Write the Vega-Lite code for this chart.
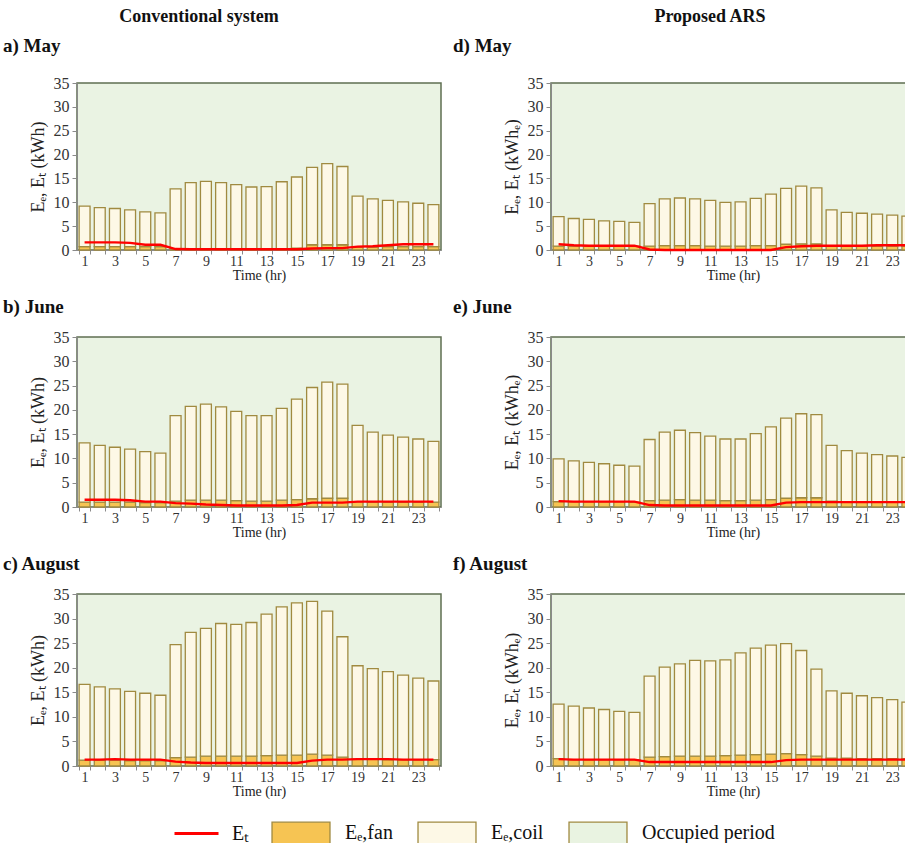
{
"$schema": "https://vega.github.io/schema/vega-lite/v6.json",
"padding": {"left": 2, "top": 8, "right": 0, "bottom": 0},
"datasets": {
"cMay": [
{"h":1,"fan":0.7,"coil":8.5,"et":1.6},{"h":2,"fan":0.7,"coil":8.2,"et":1.6},{"h":3,"fan":0.7,"coil":8.0,"et":1.6},{"h":4,"fan":0.7,"coil":7.7,"et":1.5},{"h":5,"fan":0.7,"coil":7.3,"et":1.1},{"h":6,"fan":0.7,"coil":7.1,"et":1.1},
{"h":7,"fan":0.3,"coil":12.5,"et":0.2},{"h":8,"fan":0.3,"coil":13.8,"et":0.15},{"h":9,"fan":0.3,"coil":14.1,"et":0.15},{"h":10,"fan":0.3,"coil":13.8,"et":0.15},{"h":11,"fan":0.3,"coil":13.4,"et":0.15},{"h":12,"fan":0.3,"coil":12.9,"et":0.15},
{"h":13,"fan":0.3,"coil":13.0,"et":0.15},{"h":14,"fan":0.3,"coil":14.0,"et":0.15},{"h":15,"fan":0.4,"coil":14.9,"et":0.15},{"h":16,"fan":1.1,"coil":16.2,"et":0.3},{"h":17,"fan":1.1,"coil":17.0,"et":0.4},{"h":18,"fan":1.1,"coil":16.4,"et":0.4},
{"h":19,"fan":0.6,"coil":10.7,"et":0.7},{"h":20,"fan":0.6,"coil":10.1,"et":0.8},{"h":21,"fan":0.7,"coil":9.7,"et":1.0},{"h":22,"fan":0.7,"coil":9.4,"et":1.2},{"h":23,"fan":0.7,"coil":9.1,"et":1.2},{"h":24,"fan":0.7,"coil":8.8,"et":1.2}
],
"aMay": [
{"h":1,"fan":0.8,"coil":6.2,"et":1.2},{"h":2,"fan":0.8,"coil":5.8,"et":1.0},{"h":3,"fan":0.8,"coil":5.6,"et":0.9},{"h":4,"fan":0.8,"coil":5.3,"et":0.9},{"h":5,"fan":0.8,"coil":5.2,"et":0.9},{"h":6,"fan":0.8,"coil":5.0,"et":0.9},
{"h":7,"fan":0.8,"coil":8.9,"et":0.1},{"h":8,"fan":0.9,"coil":9.8,"et":0},{"h":9,"fan":0.9,"coil":10.0,"et":0},{"h":10,"fan":0.9,"coil":9.8,"et":0},{"h":11,"fan":0.8,"coil":9.6,"et":0},{"h":12,"fan":0.8,"coil":9.2,"et":0},
{"h":13,"fan":0.8,"coil":9.3,"et":0},{"h":14,"fan":0.9,"coil":9.9,"et":0},{"h":15,"fan":0.9,"coil":10.8,"et":0},{"h":16,"fan":1.2,"coil":11.7,"et":0.6},{"h":17,"fan":1.3,"coil":12.1,"et":0.8},{"h":18,"fan":1.3,"coil":11.7,"et":0.9},
{"h":19,"fan":0.8,"coil":7.6,"et":0.9},{"h":20,"fan":0.8,"coil":7.1,"et":0.9},{"h":21,"fan":0.8,"coil":6.9,"et":0.9},{"h":22,"fan":0.8,"coil":6.7,"et":1.0},{"h":23,"fan":0.8,"coil":6.5,"et":1.0},{"h":24,"fan":0.8,"coil":6.3,"et":1.0}
],
"cJun": [
{"h":1,"fan":1.0,"coil":12.2,"et":1.5},{"h":2,"fan":1.0,"coil":11.7,"et":1.5},{"h":3,"fan":1.0,"coil":11.3,"et":1.5},{"h":4,"fan":1.0,"coil":10.9,"et":1.4},{"h":5,"fan":0.9,"coil":10.5,"et":1.1},{"h":6,"fan":0.9,"coil":10.2,"et":1.1},
{"h":7,"fan":1.2,"coil":17.6,"et":0.8},{"h":8,"fan":1.4,"coil":19.3,"et":0.7},{"h":9,"fan":1.4,"coil":19.8,"et":0.5},{"h":10,"fan":1.4,"coil":19.2,"et":0.4},{"h":11,"fan":1.3,"coil":18.4,"et":0.3},{"h":12,"fan":1.2,"coil":17.6,"et":0.3},
{"h":13,"fan":1.2,"coil":17.6,"et":0.3},{"h":14,"fan":1.4,"coil":18.9,"et":0.3},{"h":15,"fan":1.5,"coil":20.7,"et":0.4},{"h":16,"fan":1.7,"coil":22.9,"et":0.9},{"h":17,"fan":1.8,"coil":23.9,"et":0.9},{"h":18,"fan":1.8,"coil":23.5,"et":0.9},
{"h":19,"fan":1.1,"coil":15.7,"et":1.1},{"h":20,"fan":1.0,"coil":14.4,"et":1.1},{"h":21,"fan":1.0,"coil":13.8,"et":1.1},{"h":22,"fan":1.0,"coil":13.4,"et":1.1},{"h":23,"fan":1.0,"coil":13.0,"et":1.1},{"h":24,"fan":1.0,"coil":12.5,"et":1.1}
],
"aJun": [
{"h":1,"fan":1.1,"coil":8.8,"et":1.2},{"h":2,"fan":1.1,"coil":8.4,"et":1.1},{"h":3,"fan":1.1,"coil":8.1,"et":1.1},{"h":4,"fan":1.1,"coil":7.8,"et":1.1},{"h":5,"fan":1.1,"coil":7.5,"et":1.1},{"h":6,"fan":1.0,"coil":7.4,"et":1.1},
{"h":7,"fan":1.3,"coil":12.6,"et":0.4},{"h":8,"fan":1.4,"coil":14.0,"et":0.3},{"h":9,"fan":1.5,"coil":14.3,"et":0.3},{"h":10,"fan":1.4,"coil":13.9,"et":0.3},{"h":11,"fan":1.4,"coil":13.2,"et":0.3},{"h":12,"fan":1.3,"coil":12.7,"et":0.3},
{"h":13,"fan":1.3,"coil":12.7,"et":0.3},{"h":14,"fan":1.4,"coil":13.7,"et":0.3},{"h":15,"fan":1.5,"coil":15.0,"et":0.3},{"h":16,"fan":1.8,"coil":16.5,"et":0.9},{"h":17,"fan":1.9,"coil":17.3,"et":1.0},{"h":18,"fan":1.9,"coil":17.1,"et":1.0},
{"h":19,"fan":1.2,"coil":11.5,"et":1.0},{"h":20,"fan":1.1,"coil":10.5,"et":1.0},{"h":21,"fan":1.1,"coil":10.0,"et":1.0},{"h":22,"fan":1.1,"coil":9.7,"et":1.0},{"h":23,"fan":1.1,"coil":9.4,"et":1.0},{"h":24,"fan":1.1,"coil":9.1,"et":1.0}
],
"cAug": [
{"h":1,"fan":1.2,"coil":15.4,"et":1.3},{"h":2,"fan":1.2,"coil":14.9,"et":1.3},{"h":3,"fan":1.2,"coil":14.5,"et":1.4},{"h":4,"fan":1.1,"coil":14.1,"et":1.3},{"h":5,"fan":1.1,"coil":13.7,"et":1.3},{"h":6,"fan":1.1,"coil":13.3,"et":1.3},
{"h":7,"fan":1.7,"coil":23.0,"et":0.9},{"h":8,"fan":1.8,"coil":25.4,"et":0.7},{"h":9,"fan":2.0,"coil":26.0,"et":0.6},{"h":10,"fan":2.0,"coil":27.0,"et":0.6},{"h":11,"fan":2.0,"coil":26.8,"et":0.6},{"h":12,"fan":2.0,"coil":27.2,"et":0.6},
{"h":13,"fan":2.1,"coil":28.8,"et":0.6},{"h":14,"fan":2.2,"coil":30.2,"et":0.6},{"h":15,"fan":2.2,"coil":31.0,"et":0.6},{"h":16,"fan":2.4,"coil":31.1,"et":1.1},{"h":17,"fan":2.2,"coil":29.3,"et":1.3},{"h":18,"fan":1.8,"coil":24.5,"et":1.3},
{"h":19,"fan":1.4,"coil":19.0,"et":1.4},{"h":20,"fan":1.4,"coil":18.4,"et":1.4},{"h":21,"fan":1.3,"coil":17.9,"et":1.4},{"h":22,"fan":1.3,"coil":17.2,"et":1.3},{"h":23,"fan":1.3,"coil":16.6,"et":1.3},{"h":24,"fan":1.3,"coil":16.0,"et":1.3}
],
"aAug": [
{"h":1,"fan":1.5,"coil":11.1,"et":1.4},{"h":2,"fan":1.3,"coil":10.9,"et":1.3},{"h":3,"fan":1.3,"coil":10.5,"et":1.3},{"h":4,"fan":1.3,"coil":10.2,"et":1.3},{"h":5,"fan":1.3,"coil":9.8,"et":1.3},{"h":6,"fan":1.3,"coil":9.6,"et":1.3},
{"h":7,"fan":1.8,"coil":16.5,"et":0.8},{"h":8,"fan":1.9,"coil":18.2,"et":0.8},{"h":9,"fan":2.0,"coil":18.8,"et":0.8},{"h":10,"fan":2.0,"coil":19.5,"et":0.8},{"h":11,"fan":2.0,"coil":19.4,"et":0.8},{"h":12,"fan":2.1,"coil":19.5,"et":0.8},
{"h":13,"fan":2.2,"coil":20.8,"et":0.8},{"h":14,"fan":2.3,"coil":21.7,"et":0.8},{"h":15,"fan":2.4,"coil":22.2,"et":0.8},{"h":16,"fan":2.5,"coil":22.4,"et":1.2},{"h":17,"fan":2.3,"coil":21.2,"et":1.3},{"h":18,"fan":2.0,"coil":17.7,"et":1.3},
{"h":19,"fan":1.6,"coil":13.7,"et":1.3},{"h":20,"fan":1.6,"coil":13.2,"et":1.3},{"h":21,"fan":1.5,"coil":12.8,"et":1.3},{"h":22,"fan":1.5,"coil":12.4,"et":1.3},{"h":23,"fan":1.5,"coil":12.0,"et":1.3},{"h":24,"fan":1.5,"coil":11.5,"et":1.3}
]
},
"hconcat": [
{
"title": {"text": "Conventional system", "anchor": "middle", "fontSize": 18, "dx": -23, "offset": 10},
"spacing": 14,
"vconcat": [
{"title": {"text": "a) May", "dx": -26, "offset": 19}, "width": 364, "height": 167, "data": {"name": "cMay"},
 "layer": [
  {"transform": [{"fold": ["fan", "coil"], "as": ["k", "v"]}], "mark": {"type": "bar", "stroke": "#a08a40", "strokeWidth": 1.3},
   "encoding": {"x": {"field": "h", "type": "ordinal", "scale": {"paddingInner": 0.28, "paddingOuter": 0.14}, "axis": {"title": "Time (hr)"}},
    "y": {"field": "v", "type": "quantitative", "stack": "zero", "scale": {"domain": [0, 35]}, "axis": {"title": "Eₑ, Eₜ (kWh)"}},
    "fill": {"field": "k", "type": "nominal", "scale": {"domain": ["fan", "coil", "occ"], "range": ["#f6c453", "#fdf8e6", "#e9f3e1"]},
      "legend": {"orient": "none", "legendX": 194, "legendY": 720, "direction": "horizontal", "columns": 3, "title": null,
        "labelExpr": "datum.label == 'fan' ? 'Eₑ,fan' : datum.label == 'coil' ? 'Eₑ,coil' : 'Occupied period'",
        "labelFont": "Liberation Serif", "labelFontSize": 20, "labelColor": "#111", "symbolSize": 3360, "columnPadding": 22, "labelOffset": 14,
        "symbolType": "M-1,-0.38H1V0.38H-1Z", "symbolStrokeColor": "#a08a40", "symbolStrokeWidth": 1.3, "symbolOpacity": 1}},
    "order": {"field": "k", "sort": "descending"}}},
  {"mark": {"type": "line", "strokeWidth": 2.4}, "encoding": {"x": {"field": "h", "type": "ordinal"}, "y": {"field": "et", "type": "quantitative"},
    "stroke": {"datum": "Et", "type": "nominal", "scale": {"domain": ["Et"], "range": ["#ff0000"]},
      "legend": {"orient": "none", "legendX": 96, "legendY": 727, "title": null, "labelExpr": "'Eₜ'",
        "labelFont": "Liberation Serif", "labelFontSize": 20, "labelColor": "#111", "symbolType": "stroke", "symbolSize": 1936, "symbolStrokeWidth": 3, "labelOffset": 12}}}}
 ]},
{"title": {"text": "b) June", "dx": -26}, "width": 364, "height": 170, "data": {"name": "cJun"},
 "layer": [
  {"transform": [{"fold": ["fan", "coil"], "as": ["k", "v"]}], "mark": {"type": "bar", "stroke": "#a08a40", "strokeWidth": 1.3},
   "encoding": {"x": {"field": "h", "type": "ordinal", "scale": {"paddingInner": 0.28, "paddingOuter": 0.14}, "axis": {"title": "Time (hr)"}},
    "y": {"field": "v", "type": "quantitative", "stack": "zero", "scale": {"domain": [0, 35]}, "axis": {"title": "Eₑ, Eₜ (kWh)"}},
    "fill": {"field": "k", "type": "nominal"}, "order": {"field": "k", "sort": "descending"}}},
  {"mark": {"type": "line", "strokeWidth": 2.4}, "encoding": {"x": {"field": "h", "type": "ordinal"}, "y": {"field": "et", "type": "quantitative"}, "stroke": {"datum": "Et", "type": "nominal"}}}
 ]},
{"title": {"text": "c) August", "dx": -26}, "width": 364, "height": 172, "data": {"name": "cAug"},
 "layer": [
  {"transform": [{"fold": ["fan", "coil"], "as": ["k", "v"]}], "mark": {"type": "bar", "stroke": "#a08a40", "strokeWidth": 1.3},
   "encoding": {"x": {"field": "h", "type": "ordinal", "scale": {"paddingInner": 0.28, "paddingOuter": 0.14}, "axis": {"title": "Time (hr)"}},
    "y": {"field": "v", "type": "quantitative", "stack": "zero", "scale": {"domain": [0, 35]}, "axis": {"title": "Eₑ, Eₜ (kWh)"}},
    "fill": {"field": "k", "type": "nominal"}, "order": {"field": "k", "sort": "descending"}}},
  {"mark": {"type": "line", "strokeWidth": 2.4}, "encoding": {"x": {"field": "h", "type": "ordinal"}, "y": {"field": "et", "type": "quantitative"}, "stroke": {"datum": "Et", "type": "nominal"}}}
 ]}
]
},
{
"title": {"text": "Proposed ARS", "anchor": "middle", "fontSize": 18, "dx": 26, "offset": 10},
"spacing": 14,
"vconcat": [
{"title": {"text": "d) May", "dx": -50, "offset": 19}, "width": 364, "height": 167, "data": {"name": "aMay"},
 "layer": [
  {"transform": [{"fold": ["fan", "coil"], "as": ["k", "v"]}], "mark": {"type": "bar", "stroke": "#a08a40", "strokeWidth": 1.3},
   "encoding": {"x": {"field": "h", "type": "ordinal", "scale": {"paddingInner": 0.28, "paddingOuter": 0.14}, "axis": {"title": "Time (hr)"}},
    "y": {"field": "v", "type": "quantitative", "stack": "zero", "scale": {"domain": [0, 35]}, "axis": {"title": "Eₑ, Eₜ (kWhₑ)"}},
    "fill": {"field": "k", "type": "nominal"}, "order": {"field": "k", "sort": "descending"}}},
  {"mark": {"type": "line", "strokeWidth": 2.4}, "encoding": {"x": {"field": "h", "type": "ordinal"}, "y": {"field": "et", "type": "quantitative"}, "stroke": {"datum": "Et", "type": "nominal"}}}
 ]},
{"title": {"text": "e) June", "dx": -50}, "width": 364, "height": 170, "data": {"name": "aJun"},
 "layer": [
  {"transform": [{"fold": ["fan", "coil"], "as": ["k", "v"]}], "mark": {"type": "bar", "stroke": "#a08a40", "strokeWidth": 1.3},
   "encoding": {"x": {"field": "h", "type": "ordinal", "scale": {"paddingInner": 0.28, "paddingOuter": 0.14}, "axis": {"title": "Time (hr)"}},
    "y": {"field": "v", "type": "quantitative", "stack": "zero", "scale": {"domain": [0, 35]}, "axis": {"title": "Eₑ, Eₜ (kWhₑ)"}},
    "fill": {"field": "k", "type": "nominal"}, "order": {"field": "k", "sort": "descending"}}},
  {"mark": {"type": "line", "strokeWidth": 2.4}, "encoding": {"x": {"field": "h", "type": "ordinal"}, "y": {"field": "et", "type": "quantitative"}, "stroke": {"datum": "Et", "type": "nominal"}}}
 ]},
{"title": {"text": "f)  August", "dx": -50}, "width": 364, "height": 172, "data": {"name": "aAug"},
 "layer": [
  {"transform": [{"fold": ["fan", "coil"], "as": ["k", "v"]}], "mark": {"type": "bar", "stroke": "#a08a40", "strokeWidth": 1.3},
   "encoding": {"x": {"field": "h", "type": "ordinal", "scale": {"paddingInner": 0.28, "paddingOuter": 0.14}, "axis": {"title": "Time (hr)"}},
    "y": {"field": "v", "type": "quantitative", "stack": "zero", "scale": {"domain": [0, 35]}, "axis": {"title": "Eₑ, Eₜ (kWhₑ)"}},
    "fill": {"field": "k", "type": "nominal"}, "order": {"field": "k", "sort": "descending"}}},
  {"mark": {"type": "line", "strokeWidth": 2.4}, "encoding": {"x": {"field": "h", "type": "ordinal"}, "y": {"field": "et", "type": "quantitative"}, "stroke": {"datum": "Et", "type": "nominal"}}}
 ]}
]
}
],
"spacing": 10,
"resolve": {"scale": {"fill": "shared", "stroke": "shared"}},
"config": {
 "font": "Liberation Serif",
 "view": {"fill": "#eaf3e3", "stroke": "#5f6f52", "strokeWidth": 1.5},
 "title": {"font": "Liberation Serif", "fontSize": 19, "fontWeight": "bold", "anchor": "start", "frame": "bounds", "color": "#111", "offset": 12},
 "axis": {"labelFont": "Liberation Serif", "titleFont": "Liberation Serif", "labelColor": "#333", "titleColor": "#222", "domainColor": "#8a8a8a", "tickColor": "#8a8a8a", "grid": false, "titleFontWeight": "normal"},
 "axisY": {"values": [0, 5, 10, 15, 20, 25, 30, 35], "labelFontSize": 16, "titleFontSize": 18, "tickSize": 5, "labelPadding": 3, "titlePadding": 6},
 "axisX": {"labelAngle": 0, "labelFontSize": 14, "titleFontSize": 14, "tickBand": "extent", "tickSize": 4, "labelPadding": 0, "titlePadding": 0, "labelExpr": "datum.value % 2 == 1 ? datum.label : ''"}
}
}
